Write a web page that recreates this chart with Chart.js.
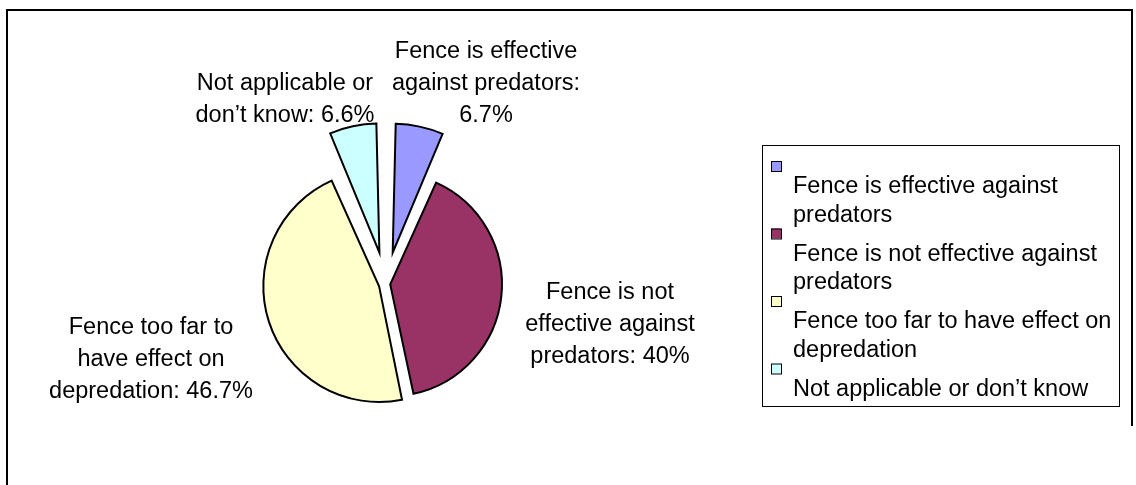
<!DOCTYPE html>
<html>
<head>
<meta charset="utf-8">
<script src="https://cdn.jsdelivr.net/npm/chart.js@4.4.0/dist/chart.umd.min.js"></script>
<style>
  html, body { margin: 0; padding: 0; background: #fff; }
  #wrap { position: relative; width: 1136px; height: 485px; }
</style>
</head>
<body>
<div id="wrap"><canvas id="pie" width="1136" height="485"></canvas></div>
<script>
// data
const categories = [
  'Fence is effective against predators',
  'Fence is not effective against predators',
  'Fence too far to have effect on depredation',
  'Not applicable or don’t know'
];
const shares = [6.7, 40, 46.7, 6.6];

// slice labels (%v gets the value) and legend wrapping
const labelLines = [
  ['Fence is effective', 'against predators:', '%v'],
  ['Fence is not', 'effective against', 'predators: %v'],
  ['Fence too far to', 'have effect on', 'depredation: %v'],
  ['Not applicable or', 'don’t know: %v']
];
const legendLines = [
  ['Fence is effective against', 'predators'],
  ['Fence is not effective against', 'predators'],
  ['Fence too far to have effect on', 'depredation'],
  ['Not applicable or don’t know']
];

// styling
const sliceColors = ['#9999ff', '#993366', '#ffffcc', '#ccffff'];
const explode = [128, 17, 29, 128];
const FONT = '23.5px "Liberation Sans", Arial, sans-serif';

const framePlugin = {
  id: 'frame',
  beforeDraw(chart) {
    const ctx = chart.ctx;
    ctx.save();
    ctx.strokeStyle = '#000';
    ctx.lineWidth = 2;
    ctx.beginPath();
    ctx.moveTo(7, 485);
    ctx.lineTo(7, 10);
    ctx.lineTo(1132, 10);
    ctx.lineTo(1132, 426);
    ctx.stroke();
    ctx.restore();
  }
};

// where each slice label sits (centre x, first baseline)
const labelAnchors = [[486, 58], [610, 299], [151, 334], [285, 90]];

const labelPlugin = {
  id: 'sliceLabels',
  afterDraw(chart) {
    const ctx = chart.ctx;
    ctx.save();
    ctx.font = FONT;
    ctx.fillStyle = '#000';
    ctx.textAlign = 'center';
    ctx.textBaseline = 'alphabetic';
    labelLines.forEach((lines, i) => {
      const [x, y] = labelAnchors[i];
      lines.forEach((ln, k) => {
        ctx.fillText(ln.replace('%v', shares[i] + '%'), x, y + k * 32);
      });
    });
    ctx.restore();
  }
};

const legendPlugin = {
  id: 'boxLegend',
  afterDraw(chart) {
    const ctx = chart.ctx;
    ctx.save();
    ctx.strokeStyle = '#000';
    ctx.lineWidth = 1;
    ctx.strokeRect(762.5, 145.5, 357, 261);
    ctx.font = FONT;
    ctx.textAlign = 'left';
    ctx.textBaseline = 'alphabetic';
    let base = 193;
    legendLines.forEach((lines, i) => {
      ctx.fillStyle = sliceColors[i];
      ctx.fillRect(771, base - 32, 10, 10);
      ctx.strokeRect(771.5, base - 31.5, 10, 10);
      ctx.fillStyle = '#000';
      lines.forEach((ln, k) => ctx.fillText(ln, 793, base + k * 28.5));
      base += lines.length * 28.5 + 10.5;
    });
    ctx.restore();
  }
};

new Chart(document.getElementById('pie'), {
  type: 'pie',
  data: {
    labels: categories,
    datasets: [{
      data: shares,
      backgroundColor: sliceColors,
      borderColor: '#000',
      borderWidth: 2,
      borderJoinStyle: 'miter',
      offset: explode
    }]
  },
  options: {
    responsive: false,
    animation: false,
    events: [],
    radius: 110,
    layout: { padding: { left: 0, right: 364, top: 83, bottom: 0 } },
    plugins: { legend: { display: false }, tooltip: { enabled: false } }
  },
  plugins: [framePlugin, labelPlugin, legendPlugin]
});
</script>
</body>
</html>
